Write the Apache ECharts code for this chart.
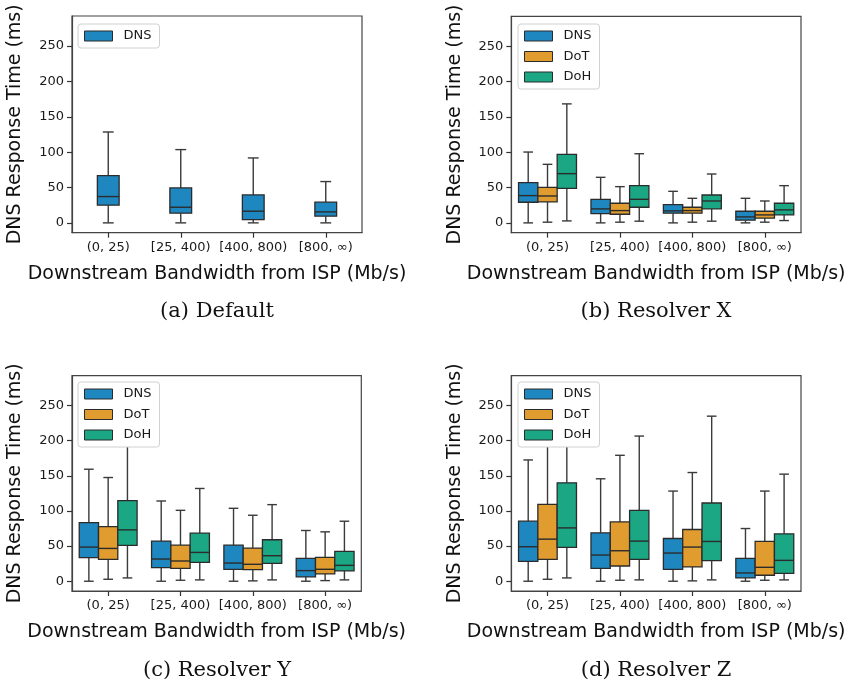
<!DOCTYPE html>
<html>
<head>
<meta charset="utf-8">
<script src="https://cdn.jsdelivr.net/npm/echarts@6/dist/echarts.min.js"></script>
<style>
html,body{margin:0;padding:0;background:#fff;}
#chart{width:851px;height:686px;}
</style>
</head>
<body>
<div id="chart"></div>
<script>
// ---- data ----
const categories = ['(0, 25)', '[25, 400)', '[400, 800)', '[800, ∞)'];
const protocols = ['DNS', 'DoT', 'DoH'];
const yTickValues = [0, 50, 100, 150, 200, 250];
const captions = ['(a) Default', '(b) Resolver X', '(c) Resolver Y', '(d) Resolver Z'];

// each row: [whiskerLow, Q1, median, Q3, whiskerHigh]
const defaultDNS = [[0,25,37.2,66.9,128.5],[0,13.7,22.1,49.4,103.6],[0,4.7,16.5,39.5,91.8],[0,9.4,15.5,29.2,58.4]];

const resolverX_DNS = [[0,29.2,38.6,57,100.3],[0,13.2,19.8,33.4,64.5],[0,13.7,17,25.9,44.7],[0,3.8,8.5,16.5,34.8]];
const resolverX_DoT = [[1,29.7,38.1,50.4,82.9],[1,12.2,17.4,27.8,51.3],[1,13.7,17.4,22.1,34.8],[1,6.6,11.3,16.5,31]];
const resolverX_DoH = [[2.8,49,69.7,97,168.5],[2.4,22.1,33.4,52.7,97.9],[2.4,19.8,31,39.5,69.2],[3.3,11.3,18.4,27.8,52.7]];

const resolverY_DNS = [[0,33.5,48.6,83.5,159.4],[0,19.3,31.6,57.1,114.2],[0,17,25.9,51.4,103.8],[0,6.1,15.1,32.5,72.2]];
const resolverY_DoT = [[2.8,31.1,46.7,77.8,147.6],[1.4,18.4,28.8,51.4,100.9],[0.5,16.5,24.1,47.2,93.9],[0.9,10.4,17,34,70.3]];
const resolverY_DoH = [[4.7,50.9,73.1,114.6,208],[1.9,26.9,41,68.4,132],[1.9,25.5,36.3,59,109],[1.9,14.6,22.6,42.5,85.4]];

const resolverZ_DNS = [[0,28.3,49.1,85.4,172.6],[0,18.4,37.3,68.9,145.8],[0,17,40.1,60.8,128.3],[0,4.7,11.8,32.5,75]];
const resolverZ_DoT = [[2.8,31.1,59.9,109.4,225],[1.4,21.7,43.4,84.4,179.2],[0.5,20.3,48.6,73.6,154.7],[1.4,8.5,19.8,56.6,128.3]];
const resolverZ_DoH = [[4.7,48.1,75.9,140.1,278],[1.9,31.1,57.1,100.9,206.6],[1.9,29.2,56.6,111.3,234.9],[1.9,11.3,29.7,67.5,152.4]];

// ---- style / layout ----
const colors = {DNS: '#1f87c0', DoT: '#e09c2f', DoH: '#1ba784'};
const lineColor = '#3a3a3a';
const font = 'DejaVu Sans';
const grids = [
  {left: 72, top: 16, width: 290, height: 216.7},
  {left: 511.3, top: 16.3, width: 289.7, height: 216.4},
  {left: 72, top: 375.7, width: 289.3, height: 215.3},
  {left: 511.3, top: 375.7, width: 289.7, height: 215.3}
];
const legendPos = [{left: 78, top: 24}, {left: 518, top: 24}, {left: 78, top: 382}, {left: 518, top: 382}];
const captionPos = [[217, 312], [656, 312], [217, 671], [656, 671]];

const panels = [
  {DNS: defaultDNS},
  {DNS: resolverX_DNS, DoT: resolverX_DoT, DoH: resolverX_DoH},
  {DNS: resolverY_DNS, DoT: resolverY_DoT, DoH: resolverY_DoH},
  {DNS: resolverZ_DNS, DoT: resolverZ_DoT, DoH: resolverZ_DoH}
];

function makeRender(slot, nSlots) {
  return function (params, api) {
    const ci = api.value(0);
    const band = api.size([1, 0])[0];
    const w = nSlots === 1 ? band * 0.3 : band * 0.8 / nSlots;
    const cx = api.coord([ci, 0])[0] + (slot - (nSlots - 1) / 2) * w;
    const yLo = api.coord([ci, api.value(1)])[1];
    const yQ1 = api.coord([ci, api.value(2)])[1];
    const yMed = api.coord([ci, api.value(3)])[1];
    const yQ3 = api.coord([ci, api.value(4)])[1];
    const yHi = api.coord([ci, api.value(5)])[1];
    const capHalf = w / 4;
    const ls = {stroke: lineColor, lineWidth: 1.4};
    const col = api.visual('color');
    return {
      type: 'group',
      children: [
        {type: 'line', shape: {x1: cx, y1: yQ3, x2: cx, y2: yHi}, style: ls},
        {type: 'line', shape: {x1: cx, y1: yQ1, x2: cx, y2: yLo}, style: ls},
        {type: 'line', shape: {x1: cx - capHalf, y1: yHi, x2: cx + capHalf, y2: yHi}, style: ls},
        {type: 'line', shape: {x1: cx - capHalf, y1: yLo, x2: cx + capHalf, y2: yLo}, style: ls},
        {type: 'rect', shape: {x: cx - w / 2, y: yQ3, width: w, height: yQ1 - yQ3},
          style: {fill: col, stroke: '#2b2b2b', lineWidth: 1.3}},
        {type: 'line', shape: {x1: cx - w / 2, y1: yMed, x2: cx + w / 2, y2: yMed},
          style: {stroke: '#2b2b2b', lineWidth: 1.4}}
      ]
    };
  };
}

const option = {
  animation: false,
  backgroundColor: '#ffffff',
  grid: [], xAxis: [], yAxis: [], series: [], legend: [], graphic: []
};

panels.forEach(function (panel, pi) {
  option.grid.push(Object.assign({show: true, borderColor: '#444', borderWidth: 1.2, containLabel: false}, grids[pi]));
  option.xAxis.push({
    type: 'category', gridIndex: pi, data: categories,
    axisLine: {show: true, onZero: false, lineStyle: {color: '#444', width: 1.2}},
    axisTick: {show: true, alignWithLabel: true, length: 5, lineStyle: {color: '#333', width: 1.2}},
    axisLabel: {fontFamily: font, fontSize: 13, color: '#1a1a1a', margin: 8, interval: 0},
    splitLine: {show: false},
    name: 'Downstream Bandwidth from ISP (Mb/s)', nameLocation: 'middle', nameGap: 32,
    nameTextStyle: {fontFamily: font, fontSize: 19, color: '#111'}
  });
  option.yAxis.push({
    type: 'value', gridIndex: pi, min: -13.9, max: 292.5,
    axisLine: {show: true, onZero: false, lineStyle: {color: '#444', width: 1.2}},
    axisTick: {show: true, length: 5, customValues: yTickValues, lineStyle: {color: '#333', width: 1.2}},
    axisLabel: {fontFamily: font, fontSize: 13, color: '#1a1a1a', margin: 8, customValues: yTickValues},
    splitLine: {show: false},
    name: 'DNS Response Time (ms)', nameLocation: 'middle', nameGap: 47,
    nameTextStyle: {fontFamily: font, fontSize: 19, color: '#111'}
  });
  const names = Object.keys(panel);
  names.forEach(function (name, si) {
    option.series.push({
      type: 'custom', name: name, xAxisIndex: pi, yAxisIndex: pi,
      coordinateSystem: 'cartesian2d',
      itemStyle: {color: colors[name]},
      encode: {x: 0, y: [1, 2, 3, 4, 5]},
      data: panel[name].map(function (r, ci) { return [ci].concat(r); }),
      renderItem: makeRender(si, names.length)
    });
  });
  option.legend.push(Object.assign({
    orient: 'vertical', data: names, icon: 'rect', itemWidth: 28, itemHeight: 10, itemGap: 6.5,
    padding: [5, 8, 5, 6], backgroundColor: '#ffffff', borderColor: '#d0d0d0', borderWidth: 1, borderRadius: 3,
    itemStyle: {borderColor: '#2b2b2b', borderWidth: 1},
    textStyle: {fontFamily: font, fontSize: 13, color: '#1a1a1a', lineHeight: 14, padding: [0, 0, 0, 6]},
    selectedMode: false
  }, legendPos[pi]));
  option.graphic.push({
    type: 'text', x: captionPos[pi][0], y: captionPos[pi][1],
    style: {text: captions[pi], fontFamily: 'DejaVu Serif', fontSize: 21, fill: '#111',
      textAlign: 'center', textVerticalAlign: 'middle'}
  });
});

const chart = echarts.init(document.getElementById('chart'), null, {renderer: 'canvas'});
chart.setOption(option);
</script>
</body>
</html>
